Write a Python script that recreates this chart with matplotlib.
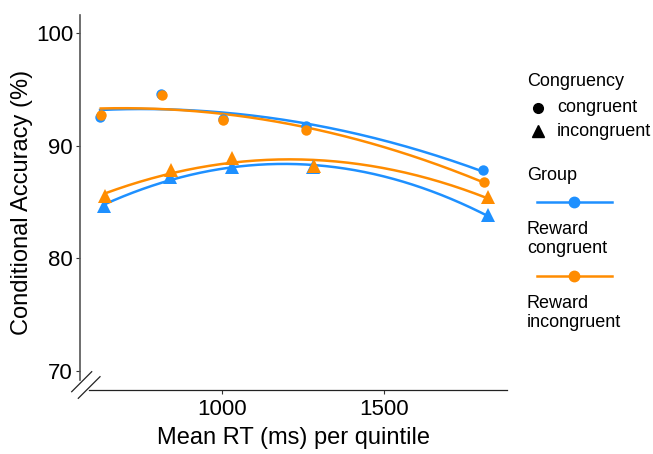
import numpy as np
import matplotlib
matplotlib.use('Agg')
import matplotlib.pyplot as plt
from matplotlib.lines import Line2D

plt.rcParams['font.family'] = ['Liberation Sans', 'DejaVu Sans']

# Mean RT per quintile (ms) and conditional accuracy (%)
rt_blue_con = [624, 812, 1004, 1259, 1805]
acc_blue_con = [92.5, 94.6, 92.4, 91.7, 87.8]
rt_orange_con = [626, 816, 1004, 1258, 1809]
acc_orange_con = [92.7, 94.5, 92.3, 91.4, 86.8]
rt_blue_inc = [636, 840, 1032, 1282, 1820]
acc_blue_inc = [84.6, 87.2, 88.1, 88.1, 83.8]
rt_orange_inc = [640, 842, 1032, 1284, 1822]
acc_orange_inc = [85.5, 87.8, 88.9, 88.2, 85.4]

BLUE = '#1E90FF'
ORANGE = '#FF8C00'

series = [
    (rt_blue_con, acc_blue_con, BLUE, 'o'),
    (rt_orange_con, acc_orange_con, ORANGE, 'o'),
    (rt_blue_inc, acc_blue_inc, BLUE, '^'),
    (rt_orange_inc, acc_orange_inc, ORANGE, '^'),
]

fig = plt.figure(figsize=(6.53, 4.54), dpi=100)
ax = fig.add_axes([0.1225, 0.141, 0.654, 0.826])

for x, y, color, marker in series:
    x = np.array(x, dtype=float)
    y = np.array(y, dtype=float)
    # quadratic smooth, as in the original
    coef = np.polyfit(x, y, 2)
    xs = np.linspace(x.min(), x.max(), 200)
    ax.plot(xs, np.polyval(coef, xs), color=color, linewidth=1.8, zorder=2)
    ms = 7.5 if marker == 'o' else 9.5
    ax.plot(x, y, linestyle='none', marker=marker, color=color,
            markersize=ms, markeredgewidth=0, zorder=3)

ax.set_xlim(562, 1880)
ax.set_ylim(68.3, 101.6)
ax.set_xticks([1000, 1500])
ax.set_yticks([70, 80, 90, 100])
ax.tick_params(labelsize=16, length=3, width=0.8, colors='#333333', labelcolor='black')
ax.tick_params(axis='y', pad=2)
ax.set_xlabel('Mean RT (ms) per quintile', fontsize=17, labelpad=5)
ax.set_ylabel('Conditional Accuracy (%)', fontsize=17, labelpad=2)

for s in ['top', 'right']:
    ax.spines[s].set_visible(False)
ax.spines['left'].set_color('#555555')
ax.spines['left'].set_linewidth(1.2)
ax.spines['bottom'].set_color('#222222')
ax.spines['bottom'].set_linewidth(0.9)
ax.spines['left'].set_bounds(69.2, 101.6)
ax.spines['bottom'].set_bounds(590, 1880)

# axis break marks
W, H = 653, 454
for (x0, y0, x1, y1) in [(71.7, 391.7, 91.7, 371.7), (78.3, 398.3, 100, 376.7)]:
    fig.add_artist(Line2D([x0 / W, x1 / W], [1 - y0 / H, 1 - y1 / H],
                          color='#222222', linewidth=0.9))


# legend drawn manually
def fx(px):
    return px / W


def fy(py):
    return 1 - py / H


fs = 13
fig.text(fx(527), fy(82), 'Congruency', fontsize=fs, va='center', ha='left')
fig.add_artist(Line2D([fx(538)], [fy(108)], marker='o', color='black',
                      markersize=7, linestyle='none'))
fig.text(fx(557), fy(108), 'congruent', fontsize=fs, va='center', ha='left')
fig.add_artist(Line2D([fx(538)], [fy(131)], marker='^', color='black',
                      markersize=8, linestyle='none'))
fig.text(fx(557), fy(131), 'incongruent', fontsize=fs, va='center', ha='left')

fig.text(fx(527), fy(176), 'Group', fontsize=fs, va='center', ha='left')
for yy, color in [(202, BLUE), (276, ORANGE)]:
    fig.add_artist(Line2D([fx(537), fx(612)], [fy(yy), fy(yy)], color=color,
                          linewidth=1.8))
    fig.add_artist(Line2D([fx(574)], [fy(yy)], marker='o', color=color,
                          markersize=7.5, linestyle='none'))
fig.text(fx(527), fy(239), 'Reward\ncongruent', fontsize=fs, va='center',
         ha='left', linespacing=1.15)
fig.text(fx(527), fy(313), 'Reward\nincongruent', fontsize=fs, va='center',
         ha='left', linespacing=1.15)

fig.savefig('out.png', dpi=100)
